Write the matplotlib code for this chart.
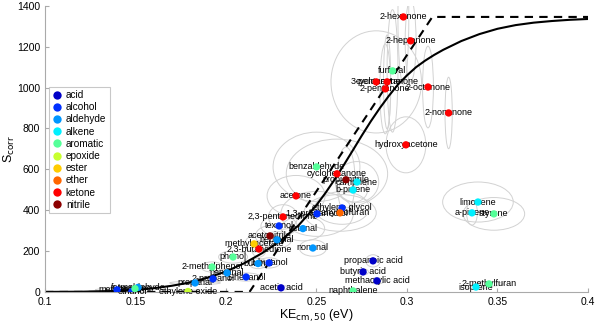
import numpy as np
import matplotlib
matplotlib.use("Agg")
import matplotlib.pyplot as plt
from matplotlib.patches import Ellipse
from matplotlib.lines import Line2D

plt.rcParams['font.family'] = ['Liberation Sans', 'DejaVu Sans']

# compound classes and their colours
classes = ["acid", "alcohol", "aldehyde", "alkene", "aromatic",
           "epoxide", "ester", "ether", "ketone", "nitrile"]
class_colors = ["#0000c8", "#0030ff", "#0096ff", "#00f0ff", "#55ff99",
                "#c8ff30", "#ffcc00", "#ff6600", "#ff0000", "#8c0000"]

# compound name, class, KE_cm,50 (eV), S_corr, ellipse half-widths (eV, S)
names = ["propanoic acid", "butyric acid", "methacrylic acid", "acetic acid",
         "methanol", "ethanol", "1,3-propanediol", "ethylene glycol", "texanol",
         "1-butanol", "1-hexanol", "2-propanol",
         "formaldehyde", "propanal", "pentanal", "butanal", "heptanal", "octanal", "nonanal",
         "camphene", "b-pinene", "limonene", "a-pinene", "isoprene",
         "furfural", "benzaldehyde", "phenol", "2-methylphenol", "benzene",
         "naphthalene", "2-methylfuran", "styrene",
         "ethylene oxide", "methyl acetate", "tetrahydrofuran",
         "2-hexanone", "2-heptanone", "3-pentanone", "cyclopentanone", "2-pentanone",
         "2-octanone", "2-nonanone", "hydroxyacetone", "cyclohexanone", "acetone",
         "2,3-pentanedione", "2,3-butanedione",
         "propionitrile", "acetonitrile"]
kind = ["acid", "acid", "acid", "acid",
        "alcohol", "alcohol", "alcohol", "alcohol", "alcohol",
        "alcohol", "alcohol", "alcohol",
        "aldehyde", "aldehyde", "aldehyde", "aldehyde", "aldehyde", "aldehyde", "aldehyde",
        "alkene", "alkene", "alkene", "alkene", "alkene",
        "aromatic", "aromatic", "aromatic", "aromatic", "aromatic",
        "aromatic", "aromatic", "aromatic",
        "epoxide", "ester", "ether",
        "ketone", "ketone", "ketone", "ketone", "ketone",
        "ketone", "ketone", "ketone", "ketone", "ketone",
        "ketone", "ketone",
        "nitrile", "nitrile"]
ke = [0.2812, 0.2757, 0.2834, 0.2304,
      0.1398, 0.1480, 0.2503, 0.2641, 0.2293,
      0.2238, 0.2111, 0.1928,
      0.1514, 0.1829, 0.2006, 0.2177, 0.2282, 0.2425, 0.2480,
      0.2724, 0.2702, 0.3392, 0.3359, 0.3381,
      0.2920, 0.2500, 0.2039, 0.1923, 0.1497,
      0.2702, 0.3453, 0.3480,
      0.1790, 0.2155, 0.2630,
      0.2980, 0.3020, 0.2830, 0.2890, 0.2880,
      0.3116, 0.3230, 0.2994, 0.2613, 0.2387,
      0.2315, 0.2182,
      0.2663, 0.2243]
s_corr = [152, 98, 54, 20,
          10, 2, 382, 411, 323,
          142, 73, 64,
          22, 44, 93, 139, 255, 310, 215,
          538, 499, 440, 387, 24,
          1082, 612, 171, 122, 16,
          5, 39, 382,
          2, 235, 387,
          1346, 1229, 1028, 1028, 994,
          1003, 876, 720, 578, 470,
          367, 210,
          549, 274]
ex = [0.004, 0.003, 0.004, 0.006,
      0.012, 0.008, 0.020, 0.015, 0.010,
      0.006, 0.008, 0.006,
      0.010, 0.014, 0.006, 0.005, 0.008, 0.012, 0.0075,
      0.012, 0.008, 0.0195, 0.003, 0.006,
      0.003, 0.024, 0.008, 0.006, 0.006,
      0.004, 0.008, 0.017,
      0.006, 0.005, 0.020,
      0.003, 0.003, 0.025, 0.002, 0.003,
      0.003, 0.002, 0.011, 0.028, 0.016,
      0.008, 0.004,
      0.005, 0.008]
ey = [30, 15, 15, 10,
      8, 6, 110, 80, 50,
      25, 20, 15,
      10, 8, 20, 25, 40, 60, 40,
      100, 60, 98, 60, 10,
      300, 170, 30, 25, 8,
      8, 10, 80,
      8, 40, 90,
      330, 200, 250, 230, 220,
      200, 175, 137, 170, 100,
      60, 40,
      160, 50]

# fitted models
fit_x = [0.10, 0.12, 0.14, 0.15, 0.16, 0.17, 0.18, 0.19, 0.20, 0.21, 0.22, 0.23,
         0.24, 0.25, 0.255, 0.26, 0.265, 0.27, 0.275, 0.28, 0.285, 0.29, 0.295,
         0.30, 0.305, 0.31, 0.315, 0.32, 0.33, 0.34, 0.35, 0.36, 0.37, 0.38,
         0.39, 0.40]
fit_y = [0, 1, 5, 10, 18, 30, 46, 70, 100, 140, 190, 250,
         325, 425, 485, 550, 620, 692, 765, 835, 900, 960, 1015,
         1060, 1100, 1132, 1160, 1185, 1228, 1262, 1288, 1306, 1318, 1326,
         1332, 1336]
step_x = [0.10, 0.213, 0.314, 0.40]
step_y = [0, 0, 1346, 1346]

fig = plt.figure(figsize=(6, 3.28), dpi=100)
ax = fig.add_axes([0.075, 0.11, 0.905, 0.872])

for x, y, w, h in zip(ke, s_corr, ex, ey):
    ax.add_patch(Ellipse((x, y), 2 * w, 2 * h, fill=False,
                         edgecolor="#d2d2d2", lw=0.7, zorder=1))

ax.plot(step_x, step_y, "k--", lw=1.5, dashes=(4, 3), zorder=2)
ax.plot(fit_x, fit_y, "k-", lw=1.5, zorder=2)

for x, y, n in zip(ke, s_corr, names):
    ax.text(x, y, n, fontsize=6.5, ha="center", va="center", zorder=3)

cols = [class_colors[classes.index(k)] for k in kind]
ax.scatter(ke, s_corr, s=28, c=cols, edgecolors="none", zorder=4)

handles = [Line2D([], [], ls="none", marker="o", ms=6, mfc=c, mec="none")
           for c in class_colors]
leg = ax.legend(handles, classes, loc="upper left", bbox_to_anchor=(0.008, 0.718),
                fontsize=7.2, frameon=True, fancybox=False, handlelength=0.8,
                handletextpad=0.5, labelspacing=0.22, borderpad=0.35,
                borderaxespad=0)
leg.get_frame().set_edgecolor("#bbbbbb")
leg.get_frame().set_linewidth(0.8)

ax.set_xlim(0.1, 0.4)
ax.set_ylim(0, 1400)
ax.set_xticks(np.arange(0.1, 0.401, 0.05))
ax.set_xticklabels(["0.1", "0.15", "0.2", "0.25", "0.3", "0.35", "0.4"])
ax.set_yticks(np.arange(0, 1401, 200))
ax.tick_params(direction="in", labelsize=7.5, color="#aaaaaa", length=3)
for side in ["top", "right"]:
    ax.spines[side].set_visible(False)
for side in ["left", "bottom"]:
    ax.spines[side].set_color("#aaaaaa")
ax.set_xlabel("KE$_{\\mathrm{cm,50}}$ (eV)", fontsize=9, labelpad=1)
ax.set_ylabel("S$_{\\mathrm{corr}}$", fontsize=9)
ax.yaxis.set_label_coords(-0.052, 0.5)

fig.savefig("out.png", dpi=100)
